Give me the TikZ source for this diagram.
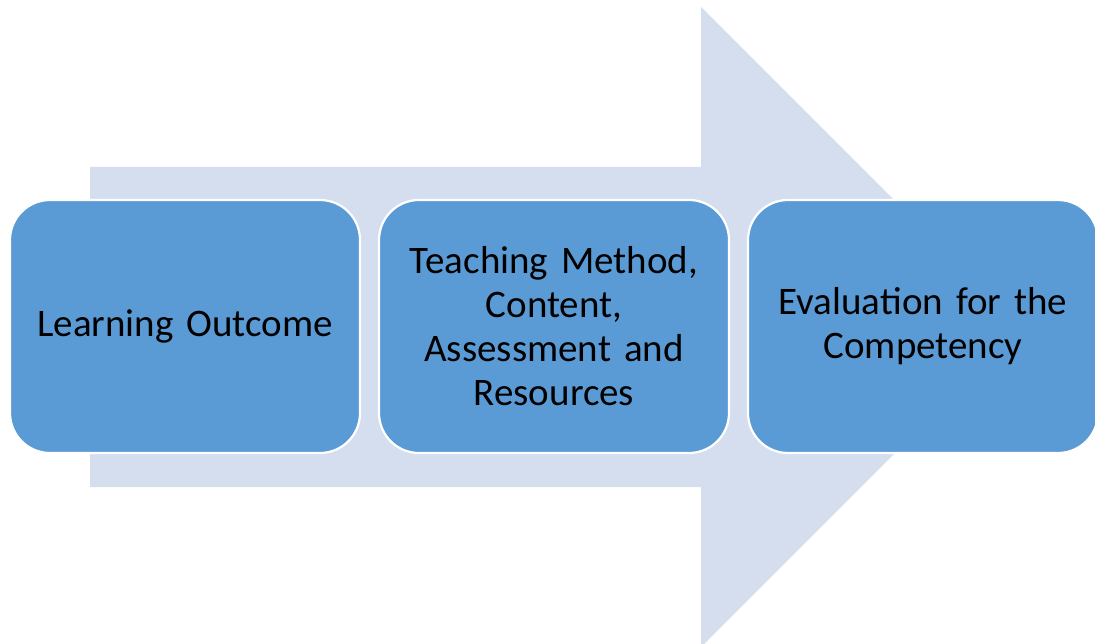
\documentclass[tikz,border=0pt]{standalone}
\usepackage{fontspec}
\setmainfont{Carlito}
\definecolor{arrowfill}{HTML}{D4DEEF}
\definecolor{boxfill}{HTML}{5B9BD5}
\begin{document}
\begin{tikzpicture}[x=1pt,y=-1pt,
  stepbox/.style={draw=white,line width=2.2pt,fill=boxfill,rounded corners=40pt,
    minimum width=350pt,minimum height=253pt,inner sep=0pt,
    text width=330pt,align=center,font=\fontsize{39}{44}\selectfont,text=black}]
\useasboundingbox (0,0) rectangle (1095,644);
\begin{scope}
\clip (0,0) rectangle (1095,644);
\fill[arrowfill] (90,167) -- (701,167) -- (701,7) -- (1021,327) -- (701,647) -- (701,487) -- (90,487) -- cycle;
\node[stepbox] (b1) at (185,326.5) {Learning Outcome};
\node[stepbox] (b2) at (554,326.5) {Teaching Method,\\Content,\\Assessment and\\Resources};
\node[stepbox] (b3) at (923,326.5) {Evaluation for the\\Competency};
\end{scope}
\end{tikzpicture}
\end{document}
